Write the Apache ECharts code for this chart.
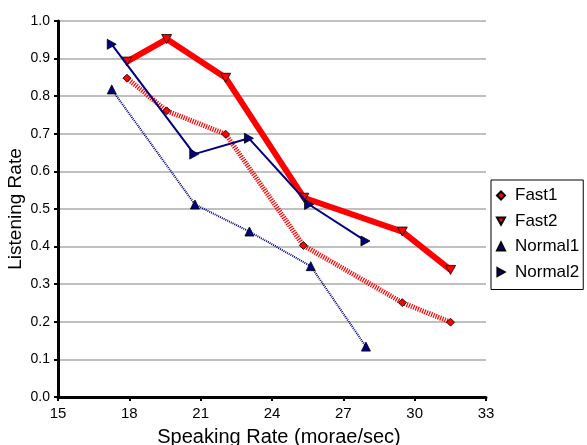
<!DOCTYPE html>
<html>
<head>
<meta charset="utf-8">
<script src="https://cdn.jsdelivr.net/npm/echarts@6/dist/echarts.min.js"></script>
<style>html,body{margin:0;padding:0;background:#fff}#c{width:587px;height:445px}</style>
</head>
<body>
<div id="c"></div>
<script>
var fast1X = [17.9, 19.57, 22.05, 25.32, 29.48, 31.51];
var fast1Y = [0.848, 0.761, 0.699, 0.403, 0.251, 0.199];
var fast2X = [17.9, 19.57, 22.05, 25.34, 29.48, 31.51];
var fast2Y = [0.892, 0.952, 0.849, 0.530, 0.440, 0.338];
var normal1X = [17.26, 20.76, 23.05, 25.63, 27.95];
var normal1Y = [0.818, 0.512, 0.440, 0.348, 0.134];
var normal2X = [17.26, 20.73, 23.03, 25.56, 27.93];
var normal2Y = [0.938, 0.646, 0.688, 0.512, 0.415];
var seriesNames = ['Fast1', 'Fast2', 'Normal1', 'Normal2'];

function pairs(xs, ys) { return xs.map(function (x, i) { return [x, ys[i]]; }); }

var downTri = 'path://M0,0 L10,0 L5,9 Z';
var rightTri = 'path://M0,0 L9,5 L0,10 Z';
var font = 'Liberation Sans, Arial, sans-serif';

var chart = echarts.init(document.getElementById('c'));
chart.setOption({
  animation: false,
  backgroundColor: '#fff',
  grid: { left: 58, right: 101, top: 21, bottom: 48, containLabel: false, outerBoundsMode: 'none' },
  legend: {
    orient: 'vertical',
    left: 491, top: 180,
    borderColor: '#000', borderWidth: 1,
    padding: [7, 4, 9, 5],
    itemWidth: 8, itemHeight: 8, itemGap: 8.5,
    textStyle: { fontFamily: font, fontSize: 17, color: '#000', lineHeight: 16, padding: [0, 0, 0, 5] },
    data: [
      { name: 'Fast1', icon: 'diamond' },
      { name: 'Fast2', icon: downTri },
      { name: 'Normal1', icon: 'triangle' },
      { name: 'Normal2', icon: rightTri }
    ]
  },
  xAxis: {
    type: 'value', min: 15, max: 33, interval: 3,
    name: 'Speaking Rate (morae/sec)', nameLocation: 'middle', nameGap: 30, nameMoveOverlap: false,
    nameTextStyle: { fontFamily: font, fontSize: 20, color: '#000', padding: [0, 0, 0, 14] },
    axisLine: { lineStyle: { color: '#000', width: 3 } },
    axisTick: { show: true, length: 4, lineStyle: { color: '#000', width: 2 } },
    axisLabel: { fontFamily: font, fontSize: 15, color: '#000', margin: 9 },
    splitLine: { show: false }
  },
  yAxis: {
    type: 'value', min: 0, max: 1, interval: 0.1,
    name: 'Listening Rate', nameLocation: 'middle', nameGap: 33, nameMoveOverlap: false,
    nameTextStyle: { fontFamily: font, fontSize: 19, color: '#000' },
    axisLine: { show: true, lineStyle: { color: '#000', width: 3 } },
    axisTick: { show: true, length: 4, lineStyle: { color: '#000', width: 2 } },
    axisLabel: { fontFamily: font, fontSize: 14, color: '#000', margin: 8,
      formatter: function (v) { return v.toFixed(1); } },
    splitLine: { show: true, lineStyle: { color: '#c0c0c0', width: 2 } }
  },
  series: [
    {
      name: seriesNames[0], type: 'line', data: pairs(fast1X, fast1Y), z: 3,
      symbol: 'diamond', symbolSize: 8,
      lineStyle: { color: '#ff0000', width: 5, type: [1.2, 1.2], cap: 'butt' },
      itemStyle: { color: '#ff0000', borderColor: '#000', borderWidth: 0.8 }
    },
    {
      name: seriesNames[1], type: 'line', data: pairs(fast2X, fast2Y), z: 4,
      symbol: downTri, symbolSize: [10, 9],
      lineStyle: { color: '#ff0000', width: 6 },
      itemStyle: { color: '#ff0000', borderColor: '#000', borderWidth: 0.8 }
    },
    {
      name: seriesNames[2], type: 'line', data: pairs(normal1X, normal1Y), z: 2,
      symbol: 'triangle', symbolSize: [9, 9],
      lineStyle: { color: '#000080', width: 2, type: [1, 1], cap: 'butt' },
      itemStyle: { color: '#000080', borderColor: '#000', borderWidth: 0.8 }
    },
    {
      name: seriesNames[3], type: 'line', data: pairs(normal2X, normal2Y), z: 5,
      symbol: rightTri, symbolSize: [9, 10],
      lineStyle: { color: '#000080', width: 2 },
      itemStyle: { color: '#000080', borderColor: '#000', borderWidth: 0.8 }
    }
  ]
});
</script>
</body>
</html>
